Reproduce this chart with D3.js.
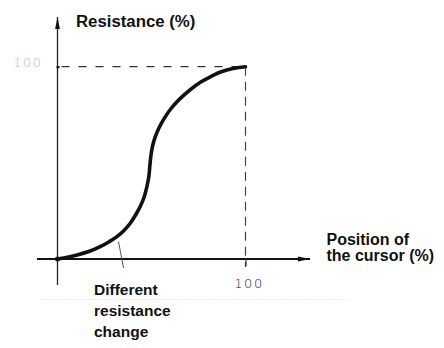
<!DOCTYPE html>
<html>
<head>
<meta charset="utf-8">
<script src="https://cdn.jsdelivr.net/npm/d3@7"></script>
<style>
  html, body { margin: 0; padding: 0; background: #fff; }
  svg { display: block; }
  .lbl { font-family: Arial, "Liberation Sans", sans-serif; font-weight: bold; fill: #111; }
  .num { font-family: "DejaVu Sans", sans-serif; font-weight: 300; }
</style>
</head>
<body>
<svg id="chart" width="444" height="348"></svg>
<script>
// Cursor position (%) versus resistance (%) for an S-taper potentiometer
const cursorPos  = [0, 10, 17, 22.7, 27.5, 31.6, 35.5, 38.7, 41.6, 44, 46, 47.6, 48.6, 49.1, 49.6, 50.4, 51.8, 53.9, 56.7, 60.2, 64.8, 70.6, 76.2, 81.8, 87.5, 94, 100];
const resistance = [0, 2, 4, 6.4, 9, 11.6, 15, 18.6, 23, 27.3, 32, 37.8, 43, 48.2, 53, 58, 63, 68, 73, 78, 83, 88, 92, 95, 97.5, 99.2, 100];
const xTicks = [100];
const yTicks = [100];
const xTitle = ["Position of", "the cursor (%)"];
const yTitle = "Resistance (%)";
const noteLines = ["Different", "resistance", "change"];
const noteAt = [33, 9];   // point near the curve the note points to

const svg = d3.select("#chart");
const x = d3.scaleLinear().domain([0, 100]).range([57.5, 245.5]);
const y = d3.scaleLinear().domain([0, 100]).range([259, 66.7]);

// faint line left by the scan
svg.append("line").attr("x1", 40).attr("x2", 350).attr("y1", 299.5).attr("y2", 299.5)
  .attr("stroke", "#ececec").attr("stroke-width", 1).attr("stroke-dasharray", "2,1");

// guide lines to the 100/100 point
svg.append("line")
  .attr("x1", x(0) + 4).attr("x2", x(100)).attr("y1", y(100)).attr("y2", y(100))
  .attr("stroke", "#333").attr("stroke-width", 1.3).attr("stroke-dasharray", "8,9");
svg.append("line")
  .attr("x1", x(100)).attr("x2", x(100)).attr("y1", y(100)).attr("y2", y(0) + 8)
  .attr("stroke", "#444").attr("stroke-width", 1.2).attr("stroke-dasharray", "9,6");

// axes
svg.append("defs").append("marker")
  .attr("id", "arrow").attr("viewBox", "0 0 12 6").attr("refX", 12).attr("refY", 3)
  .attr("markerWidth", 12).attr("markerHeight", 6).attr("markerUnits", "userSpaceOnUse")
  .attr("orient", "auto")
  .append("path").attr("d", "M0,0.6 L12,3 L0,5.4 Z").attr("fill", "#111");

svg.append("line")
  .attr("x1", 37).attr("x2", 310).attr("y1", y(0)).attr("y2", y(0))
  .attr("stroke", "#111").attr("stroke-width", 2).attr("marker-end", "url(#arrow)");
svg.append("line")
  .attr("x1", x(0)).attr("x2", x(0)).attr("y1", 285).attr("y2", 17)
  .attr("stroke", "#222").attr("stroke-width", 1.3).attr("marker-end", "url(#arrow)");

// tick labels
const xAxis = d3.axisBottom(x).tickValues(xTicks).tickSize(8).tickPadding(12).tickFormat(d3.format("d"));
const gx = svg.append("g").attr("transform", `translate(0,${y(0) - 1})`).call(xAxis);
gx.select(".domain").remove();
gx.selectAll(".tick line").attr("stroke", "#333").attr("stroke-width", 1.2);
gx.selectAll(".tick text").attr("class", "num").attr("font-size", 13).attr("fill", "#222")
  .attr("letter-spacing", 1.5).attr("dx", 3).attr("dy", "0.75em");

const yAxis = d3.axisLeft(y).tickValues(yTicks).tickSize(3).tickPadding(14).tickFormat(d3.format("d"));
const gy = svg.append("g").attr("transform", `translate(${x(0) + 2},0)`).call(yAxis);
gy.select(".domain").remove();
gy.selectAll(".tick line").attr("stroke", "#111").attr("stroke-width", 2);
gy.selectAll(".tick text").attr("class", "num").attr("font-size", 13).attr("fill", "#bbb")
  .attr("letter-spacing", 1.5).attr("dy", "-0.05em");

// response curve
const line = d3.line().x((d, i) => x(cursorPos[i])).y(d => y(d)).curve(d3.curveCatmullRom.alpha(0.5));
svg.append("path").datum(resistance).attr("d", line)
  .attr("fill", "none").attr("stroke", "#111").attr("stroke-width", 3.6)
  .attr("stroke-linecap", "round");
svg.append("circle").attr("cx", x(0)).attr("cy", y(0)).attr("r", 2.5).attr("fill", "#111");

// note leader
svg.append("line")
  .attr("x1", x(noteAt[0]) - 1).attr("y1", y(noteAt[1]))
  .attr("x2", x(noteAt[0]) + 4).attr("y2", y(0) + 9)
  .attr("stroke", "#555").attr("stroke-width", 1);

// titles
svg.append("text").attr("class", "lbl").attr("x", 76).attr("y", 27).attr("font-size", 16.8).text(yTitle);
svg.append("text").attr("class", "lbl").attr("font-size", 16)
  .selectAll("tspan").data(xTitle).join("tspan")
  .attr("x", 326.5).attr("y", (d, i) => 245 + i * 16).text(d => d);
svg.append("text").attr("class", "lbl").attr("font-size", 15.5)
  .selectAll("tspan").data(noteLines).join("tspan")
  .attr("x", 94).attr("y", (d, i) => 295 + i * 21).text(d => d);
</script>
</body>
</html>
